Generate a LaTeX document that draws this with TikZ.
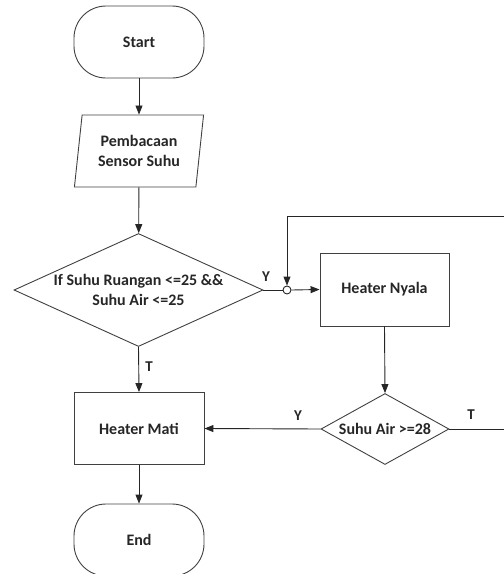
\documentclass[tikz,border=0pt]{standalone}
\usepackage{fontspec}
\setmainfont{Carlito}
\usetikzlibrary{arrows.meta, calc, shapes.geometric, positioning}

\begin{document}
\begin{tikzpicture}[x=1pt, y=-1pt,
  every node/.style={font=\fontsize{16}{20}\selectfont\bfseries, text=black!85},
  terminal/.style={draw=black!75, line width=0.9pt, rounded corners=32pt, minimum width=130pt, minimum height=72pt, inner sep=0pt},
  process/.style={draw=black!75, line width=0.9pt, minimum width=130pt, minimum height=72pt, inner sep=0pt, align=center},
  inputbox/.style={draw=black!75, line width=0.9pt, trapezium, trapezium left angle=80, trapezium right angle=100, trapezium stretches=true, minimum width=130pt, minimum height=72pt, inner sep=0pt, align=center},
  decision/.style={draw=black!75, line width=0.9pt, diamond, inner sep=0pt},
  flow/.style={draw=black!85, line width=0.9pt, -{Triangle[length=9pt, width=7pt]}},
  plain/.style={draw=black!85, line width=0.9pt},
  tag/.style={font=\fontsize{15}{18}\selectfont\bfseries},
]
\useasboundingbox (0,0) rectangle (504,574);

% Main column on the left
\node[terminal] (start) at (139, 42) {Start};
\node[inputbox] (read) at (139, 151) {Pembacaan\\Sensor Suhu};
\node[decision, minimum width=249pt, minimum height=113pt] (cek1) at (138.5, 290) {};
\node[align=center] (cek1txt) at (cek1.center) {If Suhu Ruangan <=25 \&\&\\Suhu Air <=25};
\node[process] (mati) at (139, 428.5) {Heater Mati};
\node[terminal] (end) at (139, 540) {End};

% Heater branch on the right
\node[process, minimum width=129pt, minimum height=73pt] (nyala) at (384.5, 289.5) {Heater Nyala};
\node[decision, minimum width=128pt, minimum height=71pt] (cek2) at (385, 429) {};
\node (cek2txt) at (cek2.center) {Suhu Air >=28};

% Junction where the loop comes back
\node[circle, draw=black!85, fill=white, line width=0.9pt, minimum size=8pt, inner sep=0pt] (join) at (287, 290) {};
\coordinate (loopR) at (504, 429);
\coordinate (loopT) at (504, 216);
\coordinate (loopL) at (287, 216);

\draw[flow] (start) -- (read);
\draw[flow] (read) -- (cek1);
\draw[plain] (cek1.east) -- (join.west);
\draw[flow] (join.east) -- (nyala.west);
\draw[flow] (cek1.south) -- (mati.north);
\draw[flow] (nyala.south) -- (cek2.north);
\draw[flow] (cek2.west) -- (mati.east);
\draw[flow] (mati) -- (end);
\draw[flow] (cek2.east) -- (loopR) -- (loopT) -- (loopL) -- (join.north);

% Branch labels
\node[tag] (y1) at (266, 277) {Y};
\node[tag] (t1) at (149, 367) {T};
\node[tag] (y2) at (298, 416) {Y};
\node[tag] (t2) at (471, 415) {T};

\end{tikzpicture}
\end{document}
